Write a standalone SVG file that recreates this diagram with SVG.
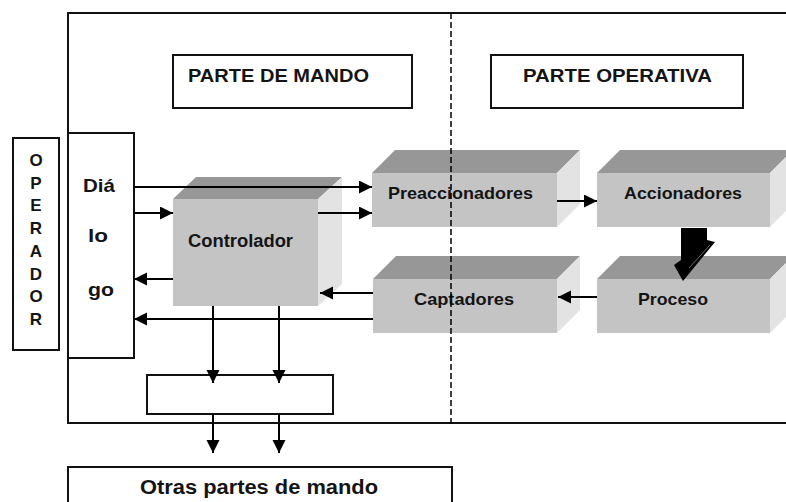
<svg xmlns="http://www.w3.org/2000/svg" width="786" height="502" viewBox="0 0 786 502">
<defs>
<marker id="ah" markerUnits="userSpaceOnUse" markerWidth="14" markerHeight="14" refX="13" refY="6.5" orient="auto">
<path d="M0,0 L13,6.5 L0,13 z" fill="#000"/>
</marker>
<style>
.box{fill:#fff;stroke:#111;stroke-width:2}
.front{fill:#c4c4c4}
.top{fill:#979797}
.side{fill:#e3e3e3}
.t{font-family:"Liberation Sans",Arial,sans-serif;font-weight:bold;fill:#141414}
.c{fill:none;stroke:#000;stroke-width:2;marker-end:url(#ah)}
</style>
</defs>
<rect width="786" height="502" fill="#fff"/>
<g id="frame">
<path d="M786,13 H68 V423 H786" fill="none" stroke="#111" stroke-width="2"/>
</g>
<g id="parte-de-mando">
<rect class="box" x="173" y="55" width="239" height="53"/>
<text class="t" x="188" y="82" font-size="19" textLength="181" lengthAdjust="spacingAndGlyphs">PARTE DE MANDO</text>
</g>
<g id="parte-operativa">
<rect class="box" x="491" y="55" width="252" height="53"/>
<text class="t" x="523" y="82" font-size="19" textLength="189" lengthAdjust="spacingAndGlyphs">PARTE OPERATIVA</text>
</g>
<g id="operador">
<rect class="box" x="13" y="138" width="46" height="212"/>
<g class="t" font-size="17" text-anchor="middle">
<text x="36" y="166">O</text>
<text x="36" y="189">P</text>
<text x="36" y="211">E</text>
<text x="36" y="234">R</text>
<text x="36" y="257">A</text>
<text x="36" y="280">D</text>
<text x="36" y="302">O</text>
<text x="36" y="325">R</text>
</g>
</g>
<g id="dialogo">
<rect class="box" x="68" y="133" width="66" height="225"/>
<text class="t" x="83" y="192" font-size="19" textLength="32" lengthAdjust="spacingAndGlyphs">Diá</text>
<text class="t" x="88" y="242" font-size="19" textLength="20" lengthAdjust="spacingAndGlyphs">lo</text>
<text class="t" x="88" y="296" font-size="19" textLength="26" lengthAdjust="spacingAndGlyphs">go</text>
</g>
<g id="controlador">
<polygon class="top" points="173,199 196,177 342,177 318,199"/>
<polygon class="side" points="318,199 342,177 342,284 318,306"/>
<rect class="front" x="173" y="199" width="145" height="107"/>
<text class="t" x="188" y="247" font-size="17.5" textLength="105" lengthAdjust="spacingAndGlyphs">Controlador</text>
</g>
<g id="preaccionadores">
<polygon class="top" points="372,173 395,150 580,150 557,173"/>
<polygon class="side" points="557,173 580,150 580,204 557,227"/>
<rect class="front" x="372" y="173" width="185" height="54"/>
<text class="t" x="388" y="199" font-size="17" textLength="145" lengthAdjust="spacingAndGlyphs">Preaccionadores</text>
</g>
<g id="accionadores">
<polygon class="top" points="597,173 620,150 793,150 770,173"/>
<polygon class="side" points="770,173 793,150 793,204 770,227"/>
<rect class="front" x="597" y="173" width="173" height="54"/>
<text class="t" x="624" y="199" font-size="17" textLength="118" lengthAdjust="spacingAndGlyphs">Accionadores</text>
</g>
<g id="captadores">
<polygon class="top" points="373,279 396,256 580,256 557,279"/>
<polygon class="side" points="557,279 580,256 580,310 557,333"/>
<rect class="front" x="373" y="279" width="184" height="54"/>
<text class="t" x="414" y="305" font-size="17" textLength="100" lengthAdjust="spacingAndGlyphs">Captadores</text>
</g>
<g id="proceso">
<polygon class="top" points="597,279 620,256 793,256 770,279"/>
<polygon class="side" points="770,279 793,256 793,310 770,333"/>
<rect class="front" x="597" y="279" width="173" height="54"/>
<text class="t" x="638" y="305" font-size="17" textLength="70" lengthAdjust="spacingAndGlyphs">Proceso</text>
</g>
<g id="buffer">
<rect class="box" x="147" y="375" width="186" height="39"/>
</g>
<g id="otras-partes">
<rect class="box" x="68" y="467" width="384" height="60"/>
<text class="t" x="140" y="494" font-size="20" textLength="238" lengthAdjust="spacingAndGlyphs">Otras partes de mando</text>
</g>
<g id="connectors">
<path class="c" d="M134,187 H372"/>
<path class="c" d="M134,213 H173"/>
<path class="c" d="M318,213 H372"/>
<path class="c" d="M557,201 H597"/>
<path class="c" d="M597,297 H558"/>
<path class="c" d="M373,293 H320"/>
<path class="c" d="M173,279 H134"/>
<path class="c" d="M373,319 H134"/>
<path class="c" d="M213,306 V383"/>
<path class="c" d="M279,306 V383"/>
<path class="c" d="M213,414 V453"/>
<path class="c" d="M279,414 V453"/>
<polygon points="681,228 707,228 707,240 715,242 683,281 674,265 681,260" fill="#000"/>
<line x1="689" y1="268" x2="710" y2="245" stroke="#6a6a6a" stroke-width="1"/>
</g>
<g id="divider">
<line x1="451" y1="13" x2="451" y2="425" stroke="#000" stroke-width="1.5" stroke-dasharray="6 3"/>
</g>
</svg>
